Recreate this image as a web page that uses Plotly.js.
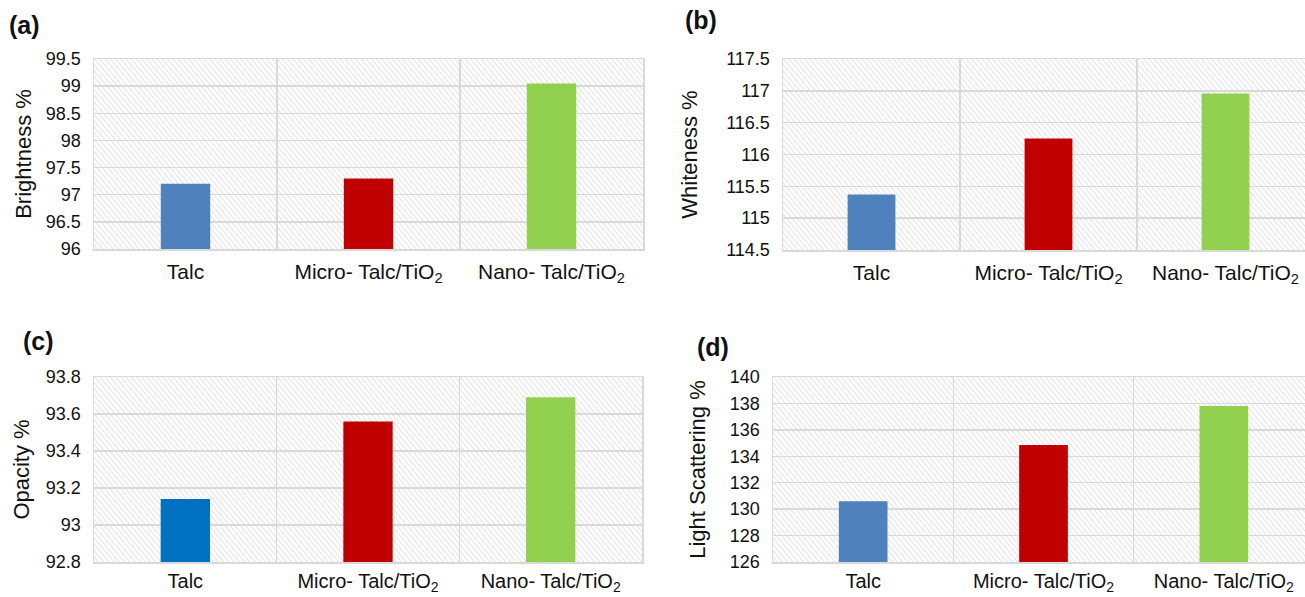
<!DOCTYPE html>
<html>
<head>
<meta charset="utf-8">
<script src="https://cdn.plot.ly/plotly-3.0.1.min.js"></script>
<style>
html,body{margin:0;padding:0;background:#fff;overflow:hidden;}
#chart{width:1320px;height:597px;}
</style>
</head>
<body>
<div id="chart"></div>
<script>
// ---- data ----
const categories = ["Talc", "Micro- Talc/TiO<sub>2</sub>", "Nano- Talc/TiO<sub>2</sub>"];
const brightness = [97.2, 97.3, 99.05];
const whiteness = [115.37, 116.25, 116.96];
const opacity = [93.14, 93.56, 93.69];
const lightScattering = [130.6, 134.85, 137.8];
const colorsABD = ["#4F81BD", "#C00000", "#92D050"];
const colorsC = ["#0070C0", "#C00000", "#92D050"];
const panelLabels = ["(a)", "(b)", "(c)", "(d)"];
const yTitles = ["Brightness %", "Whiteness %", "Opacity %", "Light Scattering %"];

// ---- geometry (pixels) ----
const W = 1320, H = 597;
const fx = p => p / W;
const fy = p => 1 - p / H;
const boxes = [
  {l: 94, r: 643, t: 59, b: 249},
  {l: 783, r: 1314, t: 59, b: 250},
  {l: 94, r: 642, t: 377, b: 562},
  {l: 773, r: 1314, t: 377, b: 562}
];

function hatch(w, h) {
  const svg = "<svg xmlns='http://www.w3.org/2000/svg' width='" + w + "' height='" + h + "' viewBox='0 0 " + w + " " + h + "' preserveAspectRatio='none'>" +
    "<defs><pattern id='p' width='4' height='4' patternUnits='userSpaceOnUse' patternTransform='rotate(-40)'>" +
    "<line x1='0' y1='0' x2='0' y2='4' stroke='#d6d6d6' stroke-width='1.4'/></pattern></defs>" +
    "<rect width='100%' height='100%' fill='#ffffff'/><rect width='100%' height='100%' fill='url(#p)'/></svg>";
  return "data:image/svg+xml;charset=utf-8," + encodeURIComponent(svg);
}

const font = "Liberation Sans, Arial, sans-serif";
const txt = "#111111";
const grid = "#d9d9d9";

const seriesList = [brightness, whiteness, opacity, lightScattering];
const colorList = [colorsABD, colorsABD, colorsC, colorsABD];
const ranges = [[96, 99.5], [114.5, 117.5], [92.8, 93.8], [126, 140]];
const dticks = [0.5, 0.5, 0.2, 2];
const standoffs = [8, 22, 10, 18];
const xLabelStandoff = [3, 3, 0, 0];
const xLabelSize = [21, 21, 20, 20];

const traces = [];
const layout = {
  width: W, height: H,
  margin: {l: 0, r: 0, t: 0, b: 0},
  paper_bgcolor: "#ffffff",
  plot_bgcolor: "#ffffff",
  showlegend: false,
  bargap: 0.73,
  font: {family: font, color: txt, size: 18},
  images: [],
  annotations: []
};

const labelPos = [[7, 25], [683, 20], [21, 341], [695, 347]];

for (let i = 0; i < 4; i++) {
  const n = i === 0 ? "" : String(i + 1);
  const bx = boxes[i];
  traces.push({
    type: "bar",
    x: categories,
    y: seriesList[i],
    marker: {color: colorList[i], line: {width: 0}},
    xaxis: "x" + n,
    yaxis: "y" + n,
    hoverinfo: "x+y"
  });
  layout["xaxis" + n] = {
    domain: [fx(bx.l), fx(bx.r)],
    anchor: "y" + n,
    type: "category",
    tickson: "boundaries",
    showgrid: true,
    gridcolor: grid,
    gridwidth: 1.5,
    showline: true,
    linecolor: grid,
    linewidth: 1.5,
    mirror: true,
    ticks: "",
    ticklabelstandoff: xLabelStandoff[i],
    tickfont: {family: font, size: xLabelSize[i], color: txt},
    fixedrange: true
  };
  layout["yaxis" + n] = {
    domain: [fy(bx.b), fy(bx.t)],
    anchor: "x" + n,
    range: ranges[i],
    dtick: dticks[i],
    tick0: ranges[i][0],
    showgrid: true,
    gridcolor: grid,
    gridwidth: 1.5,
    zeroline: false,
    showline: true,
    linecolor: grid,
    linewidth: 1.5,
    mirror: true,
    ticks: "",
    ticklabelstandoff: 8,
    tickfont: {family: font, size: 18, color: txt},
    title: {text: yTitles[i], font: {family: font, size: 22, color: txt}, standoff: standoffs[i]},
    fixedrange: true
  };
  layout.images.push({
    source: hatch(bx.r - bx.l, bx.b - bx.t),
    xref: "x" + n + " domain", yref: "y" + n + " domain",
    x: 0, y: 1, sizex: 1, sizey: 1,
    xanchor: "left", yanchor: "top",
    sizing: "stretch", layer: "below"
  });
  layout.annotations.push({
    text: "<b>" + panelLabels[i] + "</b>",
    xref: "paper", yref: "paper",
    x: fx(labelPos[i][0]), y: fy(labelPos[i][1]),
    xanchor: "left", yanchor: "middle",
    showarrow: false,
    font: {family: font, size: 25, color: txt}
  });
}

Plotly.newPlot("chart", traces, layout, {displayModeBar: false, staticPlot: true});
</script>
</body>
</html>
